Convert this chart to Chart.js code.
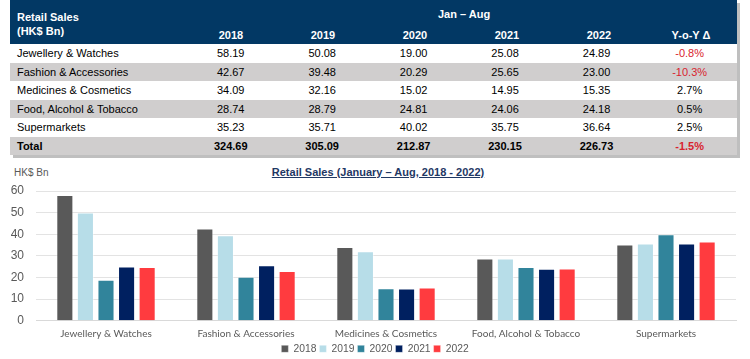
<!DOCTYPE html>
<html>
<head>
<meta charset="utf-8">
<script src="https://cdn.jsdelivr.net/npm/chart.js@4"></script>
<style>
  body { margin: 0; width: 750px; height: 359px; background: #fff; position: relative; overflow: hidden;
         font-family: "Liberation Sans", Arial, sans-serif; }
  #tbl { position: absolute; left: 10px; top: 0; width: 727px; box-shadow: 3px 3px 0 #bfbfbf; }
  #head { position: relative; height: 44px; background: #023864; color: #fff; font-weight: bold; font-size: 11px; }
  #head div { position: absolute; }
  table { border-collapse: collapse; width: 727px; font-size: 11px; color: #000; }
  td { height: 18.5px; padding: 0; text-align: center; }
  td.lbl { text-align: left; padding-left: 7px; width: 168px; }
  tr.g td { background: #d0cece; }
  tr.tot td { font-weight: bold; }
  .neg { color: #d9232e; }
  #title { position: absolute; top: 166px; left: 0; width: 756px; text-align: center; font-weight: bold; font-size: 11px;
           color: #1f3864; text-decoration: underline; }
  #unit { position: absolute; top: 167px; left: 14px; font-size: 10px; color: #595959; }
  #wrap { position: absolute; left: 0; top: 160px; width: 750px; height: 199px; }
</style>
</head>
<body>
<div id="tbl">
  <div id="head">
    <div style="left:7px;top:10px;line-height:14px">Retail Sales<br>(HK$ Bn)</div>
    <div style="left:428px;top:8px">Jan – Aug</div>
    <div id="yrs"></div>
  </div>
  <table><tbody id="body"></tbody></table>
</div>
<div id="title">Retail Sales (January – Aug, 2018 - 2022)</div>
<div id="unit">HK$ Bn</div>
<div id="wrap"><canvas id="chart" width="750" height="199"></canvas></div>
<script>
// DATA
let categories = ["Jewellery & Watches", "Fashion & Accessories", "Medicines & Cosmetics", "Food, Alcohol & Tobacco", "Supermarkets"];
let years = ["2018", "2019", "2020", "2021", "2022"];
let s2018 = [58.19, 42.67, 34.09, 28.74, 35.23];
let s2019 = [50.08, 39.48, 32.16, 28.79, 35.71];
let s2020 = [19.00, 20.29, 15.02, 24.81, 40.02];
let s2021 = [25.08, 25.65, 14.95, 24.06, 35.75];
let s2022 = [24.89, 23.00, 15.35, 24.18, 36.64];
let totals = [324.69, 305.09, 212.87, 230.15, 226.73];
let yoy = ["-0.8%", "-10.3%", "2.7%", "0.5%", "2.5%"];
let totalYoy = "-1.5%";
let colors = ["#595959", "#b7dde8", "#31849b", "#002060", "#ff3b3f"];

// TABLE
let series = [s2018, s2019, s2020, s2021, s2022];
let head = document.getElementById("yrs");
years.concat(["Y-o-Y \u0394"]).forEach((y, i) => {
  let d = document.createElement("div");
  d.style.cssText = "position:absolute;top:29px;width:92px;text-align:center;left:" + (175 + i * 92) + "px";
  d.textContent = y;
  head.appendChild(d);
});

let tbody = document.getElementById("body");
categories.forEach((c, r) => {
  let row = "<tr class='" + (r % 2 ? "g" : "") + "'><td class='lbl'>" + c + "</td>";
  series.forEach(s => { row += "<td>" + s[r].toFixed(2) + "</td>"; });
  row += "<td class='" + (yoy[r][0] === "-" ? "neg" : "") + "'>" + yoy[r] + "</td></tr>";
  tbody.innerHTML += row;
});
let tr = "<tr class='g tot'><td class='lbl'>Total</td>";
totals.forEach(t => { tr += "<td>" + t.toFixed(2) + "</td>"; });
tr += "<td class='neg'>" + totalYoy + "</td></tr>";
tbody.innerHTML += tr;

// CHART
// legend sits centred on the page, not on the plot box
let shiftLegend = {
  id: "shiftLegend",
  afterLayout(chart) {
    chart.legend.left += 7;
    chart.legend.right += 7;
  }
};

new Chart(document.getElementById("chart"), {
  type: "bar",
  data: {
    labels: categories,
    datasets: years.map((y, i) => ({
      label: y,
      data: series[i],
      backgroundColor: colors[i],
      borderColor: "rgba(255,255,255,0.35)",
      borderWidth: 1,
      categoryPercentage: 0.735,
      barPercentage: 0.83
    }))
  },
  options: {
    responsive: false,
    animation: false,
    layout: { padding: { top: 31, right: 14, bottom: -5, left: 0 } },
    scales: {
      x: {
        afterFit: s => { s.height = 20; },
        grid: { display: false, drawTicks: false },
        border: { color: "#d9d9d9" },
        ticks: { color: "#595959", font: { family: "Lato", size: 10 }, padding: 7, maxRotation: 0 }
      },
      y: {
        min: 0, max: 60,
        afterFit: s => { s.width = 36; },
        grid: { color: "#e3e3e3", drawTicks: false },
        border: { display: false },
        ticks: { stepSize: 10, color: "#595959", padding: 12, font: { family: "Liberation Sans", size: 12 } }
      }
    },
    plugins: {
      legend: {
        position: "bottom",
        labels: { boxWidth: 7, boxHeight: 7, padding: 3, color: "#595959", font: { family: "Liberation Sans", size: 10.3 } }
      },
      tooltip: { enabled: false }
    }
  },
  plugins: [shiftLegend]
});
</script>
</body>
</html>
